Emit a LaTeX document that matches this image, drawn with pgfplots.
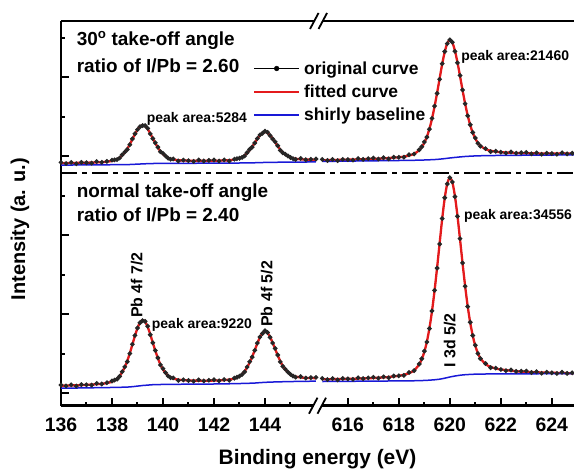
\documentclass[border=0pt]{standalone}
\usepackage{fontspec}
\setmainfont{Liberation Sans}
\usepackage{pgfplots}
\usepackage{pgfplotstable}
\pgfplotsset{compat=1.18}

\definecolor{fitred}{RGB}{228,26,28}
\definecolor{baseblue}{RGB}{25,25,215}

% Pb 4f region, normal take-off angle
\pgfplotstableread{
x fit orig base
136.0 0.184 0.204 0.120
136.2 0.188 0.178 0.122
136.4 0.192 0.207 0.124
136.6 0.196 0.176 0.126
136.8 0.201 0.211 0.128
137.0 0.207 0.207 0.130
137.2 0.214 0.199 0.132
137.4 0.223 0.243 0.134
137.6 0.233 0.228 0.136
137.8 0.251 0.261 0.138
138.0 0.285 0.305 0.140
138.1 0.317 0.327 0.141
138.2 0.362 0.352 0.142
138.3 0.430 0.420 0.144
138.4 0.525 0.540 0.146
138.5 0.652 0.662 0.148
138.6 0.814 0.794 0.150
138.7 1.009 0.999 0.155
138.8 1.225 1.235 0.160
138.9 1.447 1.457 0.167
139.0 1.645 1.645 0.175
139.1 1.789 1.779 0.182
139.2 1.845 1.830 0.190
139.3 1.802 1.812 0.195
139.4 1.671 1.691 0.200
139.5 1.486 1.476 0.205
139.6 1.276 1.271 0.210
139.7 1.067 1.077 0.212
139.8 0.879 0.889 0.214
139.9 0.720 0.710 0.215
140.0 0.597 0.617 0.217
140.1 0.505 0.515 0.218
140.2 0.441 0.431 0.219
140.3 0.397 0.387 0.219
140.4 0.367 0.382 0.220
140.6 0.338 0.318 0.221
140.8 0.324 0.334 0.222
141.0 0.318 0.318 0.223
141.2 0.314 0.299 0.224
141.4 0.312 0.332 0.225
141.6 0.311 0.306 0.226
141.8 0.312 0.322 0.227
142.0 0.315 0.335 0.228
142.2 0.320 0.310 0.230
142.4 0.326 0.341 0.232
142.6 0.340 0.320 0.234
142.8 0.365 0.375 0.236
142.9 0.389 0.399 0.238
143.0 0.426 0.426 0.240
143.1 0.476 0.466 0.241
143.2 0.550 0.535 0.243
143.3 0.648 0.658 0.245
143.4 0.773 0.793 0.247
143.5 0.920 0.910 0.249
143.6 1.085 1.080 0.252
143.7 1.255 1.265 0.257
143.8 1.407 1.417 0.262
143.9 1.514 1.504 0.266
144.0 1.555 1.575 0.270
144.1 1.521 1.531 0.273
144.2 1.420 1.410 0.276
144.3 1.275 1.265 0.278
144.4 1.112 1.127 0.280
144.5 0.952 0.962 0.282
144.6 0.808 0.788 0.284
144.7 0.685 0.675 0.285
144.8 0.591 0.601 0.287
144.9 0.520 0.530 0.288
145.0 0.472 0.472 0.290
145.1 0.438 0.428 0.291
145.2 0.416 0.401 0.292
145.4 0.394 0.414 0.294
145.6 0.383 0.378 0.296
145.8 0.379 0.389 0.298
146.0 0.376 0.396 0.300
}\bl

% Pb 4f region, 30 deg take-off angle
\pgfplotstableread{
x fit orig base
136.0 5.818 5.838 5.770
136.2 5.820 5.810 5.771
136.4 5.823 5.838 5.772
136.6 5.825 5.805 5.773
136.8 5.828 5.838 5.774
137.0 5.830 5.830 5.774
137.2 5.834 5.819 5.775
137.4 5.839 5.859 5.776
137.6 5.845 5.840 5.777
137.8 5.855 5.865 5.778
138.0 5.875 5.895 5.779
138.1 5.893 5.903 5.780
138.2 5.920 5.910 5.780
138.3 5.959 5.949 5.781
138.4 6.015 6.030 5.782
138.5 6.088 6.098 5.782
138.6 6.184 6.164 5.783
138.7 6.297 6.287 5.785
138.8 6.424 6.434 5.788
138.9 6.553 6.563 5.791
139.0 6.668 6.668 5.794
139.1 6.752 6.742 5.797
139.2 6.784 6.769 5.801
139.3 6.758 6.768 5.803
139.4 6.681 6.701 5.806
139.5 6.571 6.561 5.808
139.6 6.447 6.442 5.810
139.7 6.324 6.334 5.811
139.8 6.213 6.223 5.812
139.9 6.119 6.109 5.812
140.0 6.047 6.067 5.813
140.1 5.992 6.002 5.813
140.2 5.955 5.945 5.814
140.3 5.928 5.918 5.814
140.4 5.911 5.926 5.814
140.6 5.894 5.874 5.815
140.8 5.886 5.896 5.815
141.0 5.882 5.882 5.816
141.2 5.880 5.865 5.816
141.4 5.879 5.899 5.817
141.6 5.878 5.873 5.817
141.8 5.879 5.889 5.818
142.0 5.880 5.900 5.818
142.2 5.883 5.873 5.819
142.4 5.886 5.901 5.820
142.6 5.894 5.874 5.821
142.8 5.909 5.919 5.822
142.9 5.922 5.932 5.822
143.0 5.944 5.944 5.823
143.1 5.974 5.964 5.824
143.2 6.017 6.002 5.825
143.3 6.074 6.084 5.825
143.4 6.148 6.168 5.826
143.5 6.236 6.226 5.827
143.6 6.334 6.329 5.829
143.7 6.433 6.443 5.831
143.8 6.522 6.532 5.833
143.9 6.586 6.576 5.835
144.0 6.610 6.630 5.837
144.1 6.589 6.599 5.838
144.2 6.528 6.518 5.839
144.3 6.442 6.432 5.840
144.4 6.345 6.360 5.841
144.5 6.250 6.260 5.842
144.6 6.164 6.144 5.843
144.7 6.091 6.081 5.843
144.8 6.034 6.044 5.844
144.9 5.992 6.002 5.844
145.0 5.963 5.963 5.845
145.1 5.942 5.932 5.845
145.2 5.930 5.915 5.846
145.4 5.917 5.937 5.847
145.6 5.910 5.905 5.848
145.8 5.907 5.917 5.849
146.0 5.905 5.925 5.850
}\tl

% I 3d region, normal take-off angle
\pgfplotstableread{
x fit orig base
615.0 0.348 0.368 0.291
615.2 0.350 0.340 0.292
615.4 0.351 0.366 0.293
615.6 0.353 0.333 0.294
615.8 0.356 0.366 0.295
616.0 0.358 0.358 0.296
616.2 0.361 0.346 0.297
616.4 0.365 0.385 0.298
616.6 0.369 0.364 0.299
616.8 0.373 0.383 0.300
617.0 0.379 0.399 0.301
617.2 0.386 0.376 0.302
617.4 0.394 0.409 0.303
617.6 0.405 0.385 0.304
617.8 0.421 0.431 0.305
618.0 0.436 0.436 0.306
618.2 0.461 0.446 0.307
618.4 0.501 0.521 0.308
618.6 0.572 0.567 0.310
618.8 0.725 0.735 0.313
618.9 0.858 0.868 0.315
619.0 1.041 1.061 0.318
619.1 1.301 1.291 0.321
619.2 1.641 1.631 0.325
619.3 2.068 2.078 0.330
619.4 2.585 2.600 0.335
619.5 3.171 3.161 0.342
619.6 3.791 3.771 0.350
619.7 4.407 4.417 0.362
619.8 4.933 4.943 0.375
619.9 5.304 5.294 0.390
620.0 5.450 5.450 0.405
620.1 5.332 5.342 0.418
620.2 4.986 4.971 0.430
620.3 4.483 4.473 0.440
620.4 3.888 3.908 0.450
620.5 3.282 3.292 0.457
620.6 2.708 2.703 0.463
620.7 2.199 2.189 0.467
620.8 1.780 1.790 0.471
620.9 1.446 1.456 0.474
621.0 1.190 1.210 0.476
621.1 1.011 1.001 0.478
621.2 0.880 0.870 0.479
621.4 0.730 0.745 0.481
621.6 0.661 0.641 0.483
621.8 0.620 0.630 0.483
622.0 0.595 0.595 0.484
622.2 0.579 0.564 0.484
622.4 0.563 0.583 0.485
622.6 0.551 0.546 0.485
622.8 0.543 0.553 0.486
623.0 0.535 0.555 0.486
623.2 0.529 0.519 0.487
623.4 0.524 0.539 0.487
623.6 0.520 0.500 0.488
623.8 0.515 0.525 0.488
624.0 0.512 0.512 0.489
624.2 0.509 0.494 0.489
624.4 0.505 0.525 0.489
624.6 0.503 0.498 0.490
624.8 0.501 0.511 0.490
625.0 0.498 0.518 0.490
}\br

% I 3d region, 30 deg take-off angle
\pgfplotstableread{
x fit orig base
615.0 5.893 5.913 5.862
615.2 5.896 5.886 5.864
615.4 5.898 5.913 5.866
615.6 5.902 5.882 5.868
615.8 5.905 5.915 5.870
616.0 5.908 5.908 5.871
616.2 5.911 5.896 5.873
616.4 5.915 5.935 5.874
616.6 5.919 5.914 5.876
616.8 5.923 5.933 5.877
617.0 5.928 5.948 5.879
617.2 5.933 5.923 5.880
617.4 5.940 5.955 5.882
617.6 5.948 5.928 5.883
617.8 5.958 5.968 5.885
618.0 5.968 5.968 5.886
618.2 5.985 5.970 5.888
618.4 6.011 6.031 5.890
618.6 6.055 6.050 5.892
618.8 6.147 6.157 5.895
618.9 6.226 6.236 5.897
619.0 6.335 6.355 5.899
619.1 6.488 6.478 5.901
619.2 6.690 6.680 5.904
619.3 6.943 6.953 5.907
619.4 7.249 7.264 5.910
619.5 7.595 7.585 5.915
619.6 7.963 7.943 5.920
619.7 8.326 8.336 5.927
619.8 8.636 8.646 5.934
619.9 8.855 8.845 5.942
620.0 8.940 8.940 5.950
620.1 8.870 8.880 5.957
620.2 8.666 8.651 5.964
620.3 8.369 8.359 5.970
620.4 8.020 8.040 5.977
620.5 7.662 7.672 5.982
620.6 7.327 7.322 5.988
620.7 7.028 7.018 5.992
620.8 6.782 6.792 5.996
620.9 6.586 6.596 5.999
621.0 6.438 6.458 6.002
621.1 6.333 6.323 6.004
621.2 6.258 6.248 6.006
621.4 6.172 6.187 6.009
621.6 6.132 6.112 6.011
621.8 6.110 6.120 6.013
622.0 6.097 6.097 6.015
622.2 6.089 6.074 6.016
622.4 6.082 6.102 6.017
622.6 6.076 6.071 6.018
622.8 6.072 6.082 6.019
623.0 6.069 6.089 6.020
623.2 6.067 6.057 6.021
623.4 6.065 6.080 6.022
623.6 6.064 6.044 6.023
623.8 6.062 6.072 6.024
624.0 6.062 6.062 6.025
624.2 6.061 6.046 6.026
624.4 6.061 6.081 6.027
624.6 6.060 6.055 6.028
624.8 6.061 6.071 6.029
625.0 6.061 6.081 6.030
}\tr

\begin{document}
\begin{tikzpicture}
\begin{axis}[
  scale only axis, width=513bp, height=384.7bp,
  xmin=136, xmax=156.12, ymin=-0.3215, ymax=9.418,
  axis x line*=box, axis y line*=left,
  axis line style={line width=2.5bp},
  xtick={136,138,140,142,144,147.25,149.25,151.25,153.25,155.25},
  xticklabels={136,138,140,142,144,616,618,620,622,624},
  minor xtick={137,139,141,143,145,148.25,150.25,152.25,154.25},
  ytick={0,2,4,6,8}, minor ytick={1,3,5,7,9}, yticklabels={},
  xtick pos=left, ytick pos=left,
  tick align=inside,
  major tick length=8bp, minor tick length=4bp,
  tick style={black, line width=2bp},
  /pgf/number format/assume math mode=true,
  xticklabel style={font=\fontsize{19.5}{20}\selectfont\bfseries, anchor=base, yshift=-25.3bp},
  xlabel={Binding energy (eV)},
  xlabel style={font=\fontsize{21}{22}\selectfont\bfseries, at={(axis description cs:0.5,-0.154)}, anchor=base},
  ylabel={Intensity (a. u.)},
  ylabel style={font=\fontsize{20}{22}\selectfont\bfseries, at={(axis description cs:-0.08,0.459)}, anchor=center},
  legend style={at={(axis cs:143.53,8.45)}, anchor=north west, draw=none, fill=none,
    inner sep=0pt, font=\fontsize{17.5}{20}\selectfont\bfseries, row sep=5bp, column sep=2bp},
  legend cell align=left,
]
% spectra: measured points, fit and Shirley background
\addplot[forget plot, black!85, line width=1.1bp, mark=*, mark size=1.8bp, smooth] table[x=x, y=orig] {\bl};
\addplot[forget plot, fitred, line width=2.3bp, smooth] table[x=x, y=fit] {\bl};
\addplot[forget plot, baseblue, line width=1.5bp, smooth] table[x=x, y=base] {\bl};
\addplot[forget plot, black!85, line width=1.1bp, mark=*, mark size=1.8bp, smooth] table[x=x, y=orig] {\tl};
\addplot[forget plot, fitred, line width=2.3bp, smooth] table[x=x, y=fit] {\tl};
\addplot[forget plot, baseblue, line width=1.5bp, smooth] table[x=x, y=base] {\tl};
\addplot[forget plot, black!85, line width=1.1bp, mark=*, mark size=1.8bp, smooth] table[x expr=\thisrow{x}-468.75, y=orig] {\br};
\addplot[forget plot, fitred, line width=2.3bp, smooth] table[x expr=\thisrow{x}-468.75, y=fit] {\br};
\addplot[forget plot, baseblue, line width=1.5bp, smooth] table[x expr=\thisrow{x}-468.75, y=base] {\br};
\addplot[forget plot, black!85, line width=1.1bp, mark=*, mark size=1.8bp, smooth] table[x expr=\thisrow{x}-468.75, y=orig] {\tr};
\addplot[forget plot, fitred, line width=2.3bp, smooth] table[x expr=\thisrow{x}-468.75, y=fit] {\tr};
\addplot[forget plot, baseblue, line width=1.5bp, smooth] table[x expr=\thisrow{x}-468.75, y=base] {\tr};

% legend
\addlegendimage{legend image code/.code={\draw[black, line width=1.4bp] (0bp,0bp) -- (45bp,0bp); \fill[black] (22.5bp,0bp) circle (2.4bp);}}
\addlegendentry{original curve}
\addlegendimage{legend image code/.code={\draw[fitred, line width=2bp] (0bp,0bp) -- (45bp,0bp);}}
\addlegendentry{fitted curve}
\addlegendimage{legend image code/.code={\draw[baseblue, line width=1.7bp] (0bp,0bp) -- (45bp,0bp);}}
\addlegendentry{shirly baseline}

% separator between the two spectra
\draw[line width=2.5bp, dash pattern=on 16bp off 5bp on 5bp off 5bp] (axis cs:136,5.57) -- (axis cs:156.12,5.57);

% annotations
\node[anchor=base west, inner sep=0pt, font=\fontsize{19}{22}\selectfont\bfseries] at (axis cs:136.61,8.81) {30\textsuperscript{o} take-off angle};
\node[anchor=base west, inner sep=0pt, font=\fontsize{19}{22}\selectfont\bfseries] at (axis cs:136.61,8.11) {ratio of I/Pb = 2.60};
\node[anchor=base west, inner sep=0pt, font=\fontsize{19}{22}\selectfont\bfseries] at (axis cs:136.61,4.95) {normal take-off angle};
\node[anchor=base west, inner sep=0pt, font=\fontsize{19}{22}\selectfont\bfseries] at (axis cs:136.61,4.34) {ratio of I/Pb = 2.40};
\node[anchor=base west, inner sep=0pt, font=\fontsize{14}{16}\selectfont\bfseries] at (axis cs:139.36,6.85) {peak area:5284};
\node[anchor=base west, inner sep=0pt, font=\fontsize{14}{16}\selectfont\bfseries] at (axis cs:139.56,1.64) {peak area:9220};
\node[anchor=base west, inner sep=0pt, font=\fontsize{14}{16}\selectfont\bfseries] at (axis cs:151.69,8.41) {peak area:21460};
\node[anchor=base west, inner sep=0pt, font=\fontsize{14}{16}\selectfont\bfseries] at (axis cs:151.80,4.38) {peak area:34556};
\node[rotate=90, inner sep=0pt, font=\fontsize{16}{18}\selectfont\bfseries] at (axis cs:138.97,2.73) {Pb 4f 7/2};
\node[rotate=90, inner sep=0pt, font=\fontsize{16}{18}\selectfont\bfseries] at (axis cs:144.07,2.51) {Pb 4f 5/2};
\node[rotate=90, inner sep=0pt, font=\fontsize{16}{18}\selectfont\bfseries] at (axis cs:151.25,1.33) {I 3d 5/2};

\coordinate (bkb) at (axis cs:146.06,-0.3215);
\coordinate (bkt) at (axis cs:146.1,9.418);
\end{axis}
% axis break marks
\foreach \p in {bkb,bkt} {
  \draw[white, line width=4bp] ([xshift=-4bp]\p) -- ([xshift=4bp]\p);
  \draw[line width=1.8bp] ([xshift=-8.5bp,yshift=-8bp]\p) -- ([xshift=0bp,yshift=8bp]\p);
  \draw[line width=1.8bp] ([xshift=0bp,yshift=-8bp]\p) -- ([xshift=8.5bp,yshift=8bp]\p);
}
\pgfresetboundingbox
\path[use as bounding box] ([xshift=-61bp,yshift=-68.3bp]current axis.south west) rectangle ++(574bp,474bp);
\end{tikzpicture}
\end{document}
